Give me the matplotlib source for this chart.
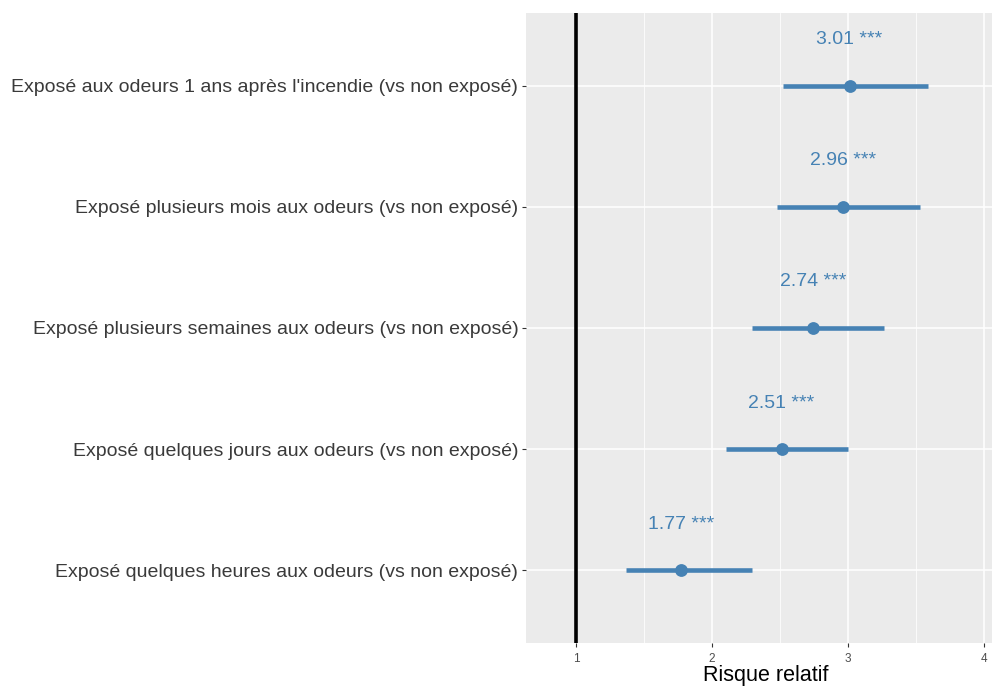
import matplotlib
matplotlib.use("Agg")
import matplotlib.pyplot as plt
from matplotlib.ticker import MultipleLocator

plt.rcParams['font.family'] = ['Liberation Sans', 'DejaVu Sans']

# Relative risks with 95% confidence intervals, listed bottom to top
labels = [
    "Exposé quelques heures aux odeurs (vs non exposé)",
    "Exposé quelques jours aux odeurs (vs non exposé)",
    "Exposé plusieurs semaines aux odeurs (vs non exposé)",
    "Exposé plusieurs mois aux odeurs (vs non exposé)",
    "Exposé aux odeurs 1 ans après l'incendie (vs non exposé)",
]
rr = [1.77, 2.51, 2.74, 2.96, 3.01]
ci_low = [1.37, 2.10, 2.29, 2.48, 2.52]
ci_high = [2.29, 3.00, 3.26, 3.53, 3.59]
signif = ["***", "***", "***", "***", "***"]
x_ticks = [1, 2, 3, 4]

blue = "#4682B4"
panel_bg = "#EBEBEB"

fig = plt.figure(figsize=(9.92, 6.86), dpi=100)
# panel runs slightly past the right edge of the canvas
ax = fig.add_axes([526 / 992, 1 - 643 / 686, (1006 - 526) / 992, (643 - 13) / 686])
ax.set_facecolor(panel_bg)

ypos = list(range(1, len(labels) + 1))

# grid: major and minor, white
ax.xaxis.set_major_locator(MultipleLocator(1))
ax.xaxis.set_minor_locator(MultipleLocator(0.5))
ax.grid(which="major", axis="both", color="white", linewidth=1.1, zorder=0)
ax.grid(which="minor", axis="x", color="white", linewidth=0.55, zorder=0)
ax.set_axisbelow(True)

# reference line at RR = 1
ax.axvline(1, color="black", linewidth=2.6, zorder=2)

# confidence intervals and point estimates
ax.hlines(ypos, ci_low, ci_high, color=blue, linewidth=3.3, zorder=3)
ax.scatter(rr, ypos, s=85, color=blue, zorder=4, linewidths=0)

for y, v, s in zip(ypos, rr, signif):
    ax.text(v, y + 0.38, f"{v:.2f} {s}", color=blue, fontsize=14,
            ha="center", va="center", zorder=5)

ax.set_xlim(0.632, 4.16)
ax.set_ylim(0.4, len(labels) + 0.6)
ax.set_xticks(x_ticks)
ax.set_xticklabels([str(t) for t in x_ticks])
ax.set_yticks(ypos)
ax.set_yticklabels(labels)

for sp in ax.spines.values():
    sp.set_visible(False)

ax.tick_params(axis="x", which="major", length=3, width=0.8, color="#333333",
               labelsize=8.5, labelcolor="#4D4D4D", pad=4)
ax.tick_params(axis="x", which="minor", length=0)
ax.tick_params(axis="y", length=3, width=0.8, color="#333333",
               labelsize=14.0, labelcolor="#3A3A3A", pad=2.5)

ax.set_xlabel("Risque relatif", fontsize=15.5, color="black", labelpad=0.5)

fig.savefig("out.png", dpi=100)
